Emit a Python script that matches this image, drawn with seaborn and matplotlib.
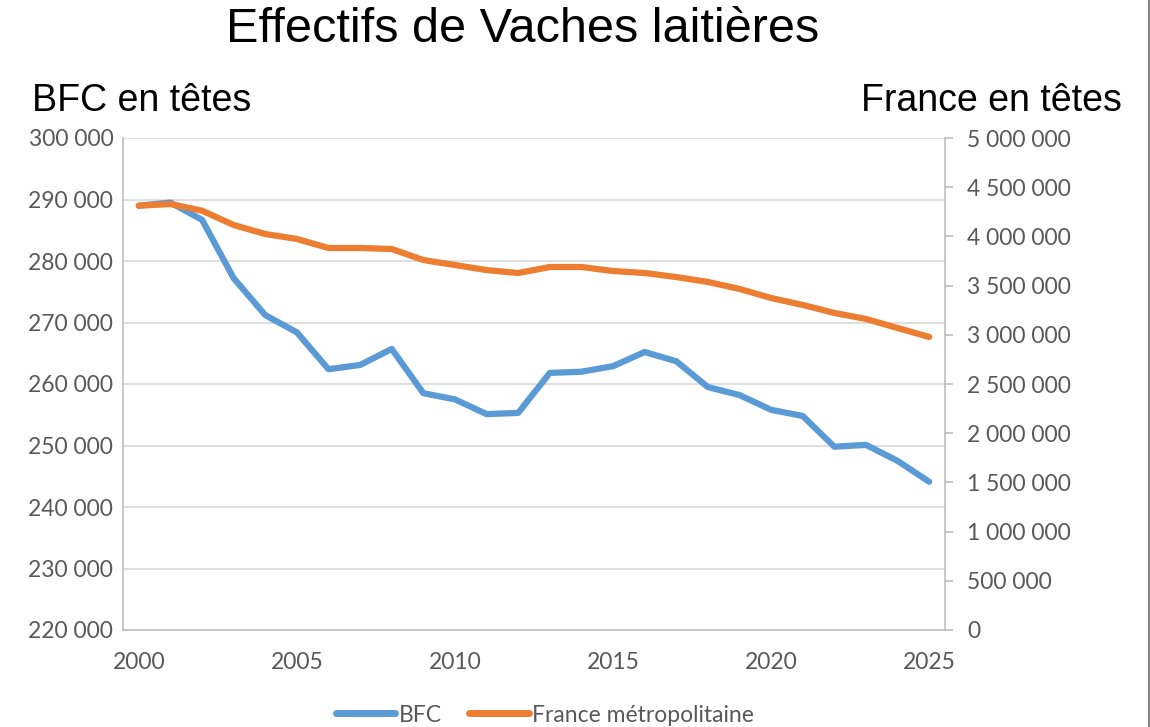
import matplotlib
matplotlib.use("Agg")
import matplotlib.pyplot as plt
import seaborn as sns
import pandas as pd
from matplotlib.ticker import FuncFormatter, MultipleLocator
from matplotlib.lines import Line2D

# ── Data ─────────────────────────────────────────────────────
years = list(range(2000, 2026))
bfc = [289000, 289500, 286700, 277200, 271200, 268400, 262400, 263100,
       265700, 258500, 257500, 255100, 255300, 261800, 262000, 262900,
       265200, 263700, 259500, 258200, 255800, 254800, 249800, 250100,
       247500, 244100]
france = [4312000, 4329000, 4261000, 4116000, 4024000, 3974000, 3882000,
          3882000, 3872000, 3760000, 3709000, 3658000, 3628000, 3689000,
          3689000, 3648000, 3628000, 3587000, 3537000, 3466000, 3374000,
          3303000, 3222000, 3161000, 3069000, 2978000]

df = pd.DataFrame({"Année": years, "BFC": bfc, "France": france})

BLUE = "#5B9BD5"
ORANGE = "#ED7D31"
GRID = "#d9d9d9"
SPINE = "#bfbfbf"
TICK_TXT = "#595959"
TSIZE = 16.5

sns.set_theme(style="white")
plt.rcParams["font.family"] = ["Lato", "DejaVu Sans"]

fig = plt.figure(figsize=(11.5, 7.27), dpi=100)
ax = fig.add_axes([123 / 1150, 1 - 630 / 727, (945 - 123) / 1150, (630 - 138) / 727])
ax2 = ax.twinx()

sns.lineplot(data=df, x="Année", y="BFC", ax=ax, color=BLUE, linewidth=4.5,
             legend=False)
sns.lineplot(data=df, x="Année", y="France", ax=ax2, color=ORANGE, linewidth=4.5,
             legend=False)
for ln in ax.lines + ax2.lines:
    ln.set_solid_capstyle("round")
    ln.set_solid_joinstyle("round")

fmt = FuncFormatter(lambda v, p: f"{int(v):,}".replace(",", " "))

ax.set_xlim(1999.5, 2025.5)
ax.set_ylim(220000, 300000)
ax.yaxis.set_major_locator(MultipleLocator(10000))
ax.yaxis.set_major_formatter(fmt)
ax.xaxis.set_major_locator(MultipleLocator(5))
ax.grid(axis="y", color=GRID, linewidth=1.2)
ax.set_axisbelow(True)

ax2.set_ylim(0, 5000000)
ax2.yaxis.set_major_locator(MultipleLocator(500000))
ax2.yaxis.set_major_formatter(fmt)
ax2.grid(False)

ax.set_xlabel("")
ax.set_ylabel("")
ax2.set_ylabel("")

for a in (ax, ax2):
    for s in a.spines.values():
        s.set_visible(False)
ax.spines["left"].set_visible(True)
ax.spines["bottom"].set_visible(True)
ax2.spines["right"].set_visible(True)
for s in (ax.spines["left"], ax.spines["bottom"], ax2.spines["right"]):
    s.set_color(SPINE)
    s.set_linewidth(1.2)

ax.tick_params(axis="y", length=0, pad=7, labelsize=TSIZE, labelcolor=TICK_TXT)
ax.tick_params(axis="x", length=0, pad=16, labelsize=TSIZE, labelcolor=TICK_TXT)
ax2.tick_params(axis="y", direction="out", length=6, width=1.2, color=SPINE,
                pad=10, labelsize=TSIZE, labelcolor=TICK_TXT)

# ── Titles ───────────────────────────────────────────────────
fig.text(523 / 1150, 1 - 30 / 727, "Effectifs de Vaches laitières",
         ha="center", va="center", fontsize=35, color="black",
         family="Liberation Sans")
fig.text(32 / 1150, 1 - 101 / 727, "BFC en têtes", ha="left", va="center",
         fontsize=27, color="black", family="Liberation Sans")
fig.text(1122 / 1150, 1 - 101 / 727, "France en têtes", ha="right", va="center",
         fontsize=27, color="black", family="Liberation Sans")

# ── Legend ───────────────────────────────────────────────────
handles = [Line2D([], [], color=BLUE, linewidth=5, solid_capstyle="round"),
           Line2D([], [], color=ORANGE, linewidth=5, solid_capstyle="round")]
leg = fig.legend(handles, ["BFC", "France métropolitaine"], loc="center",
                 bbox_to_anchor=(545 / 1150, 1 - 715 / 727), ncol=2,
                 frameon=False, fontsize=TSIZE, handlelength=2.6,
                 handletextpad=0.15, columnspacing=1.2)
for t in leg.get_texts():
    t.set_color(TICK_TXT)

# right border line of the original picture
fig.add_artist(Line2D([1149 / 1150, 1149 / 1150], [0, 1], color="#888888",
                      linewidth=1.5, transform=fig.transFigure))

fig.savefig("out.png", dpi=100)
